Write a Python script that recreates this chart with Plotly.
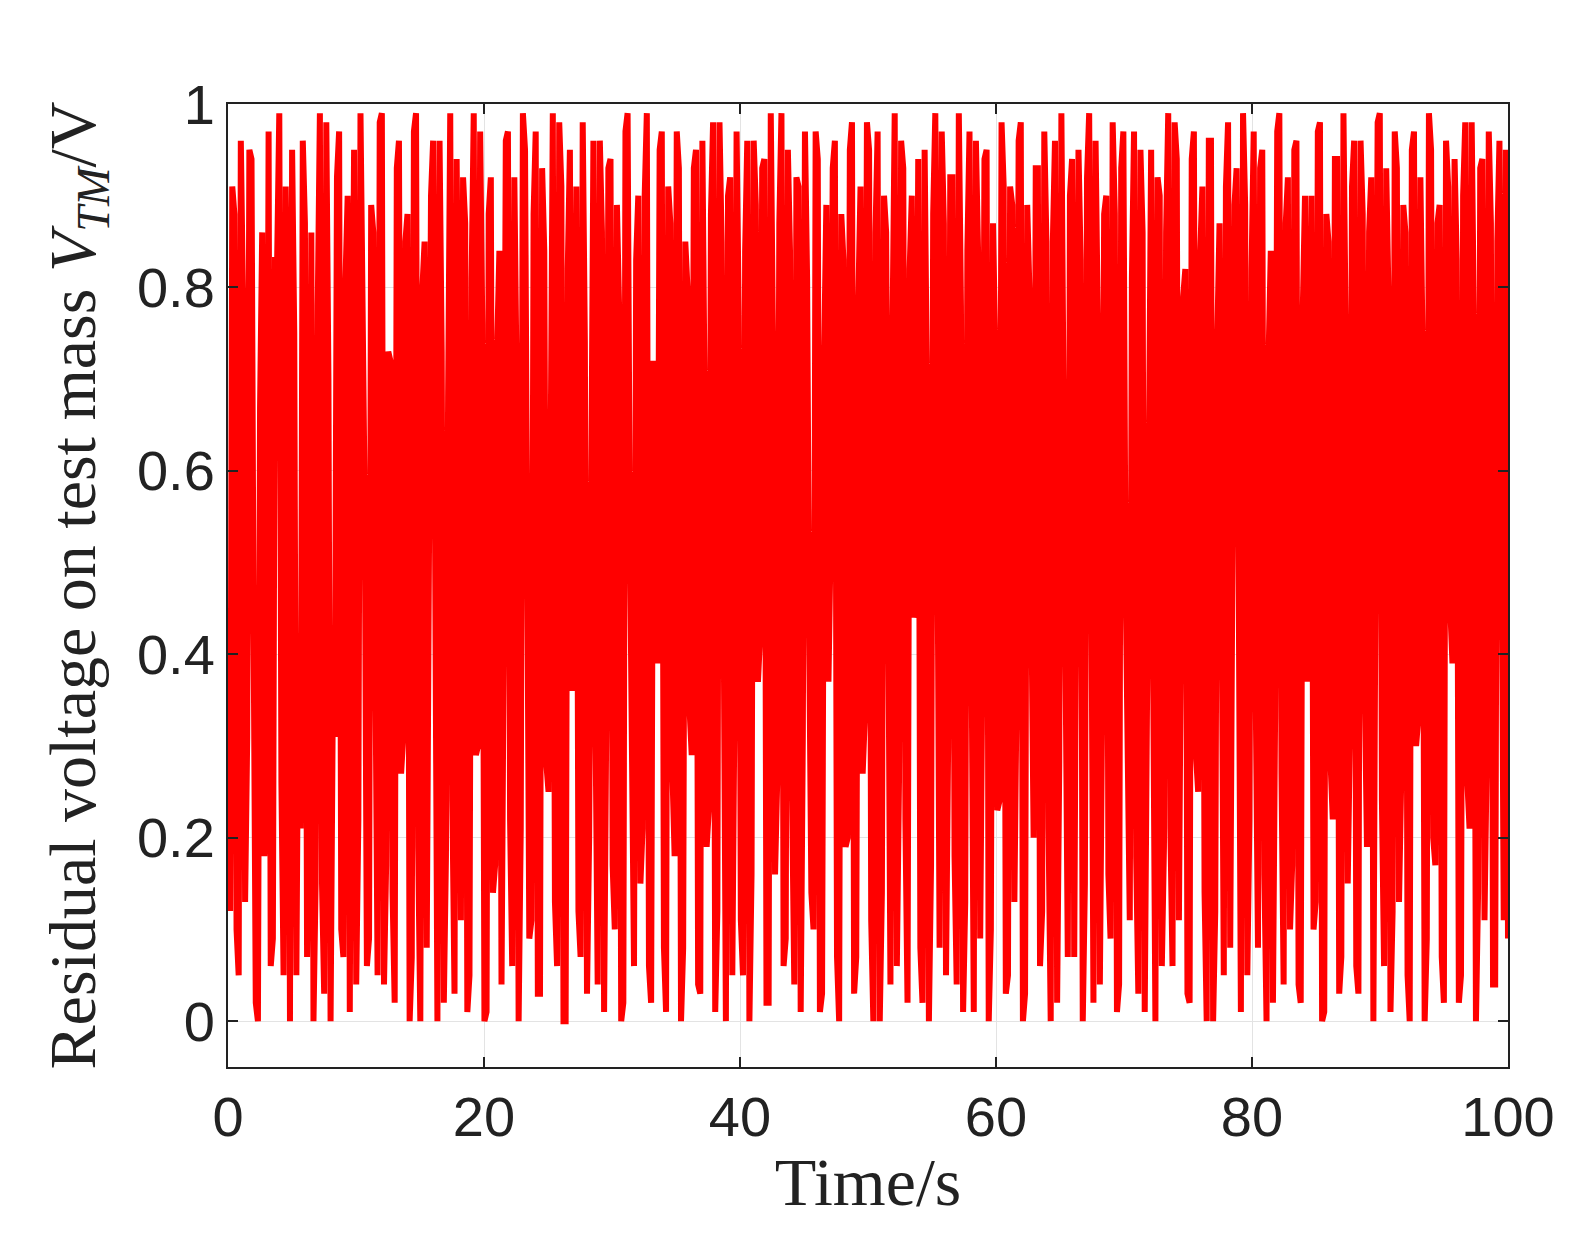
import numpy as np
import plotly.graph_objects as go

# residual voltage samples (V), evenly spaced over 0-100 s
voltage_a = [
    0.35, 0.91, 0.10, 0.96, 0.13, 0.95, 0.42, 0.00, 0.86, 0.23, 0.06, 0.83, 0.99, 0.05, 0.72, 0.95, 0.05, 0.21, 0.87, 0.28,
    0.00, 0.78, 0.15, 0.98, 0.00, 0.31, 0.97, 0.07, 0.90, 0.61, 0.04, 0.99, 0.56, 0.09, 0.86, 0.05, 0.99, 0.17, 0.72, 0.02,
    0.96, 0.31, 0.88, 0.07, 0.99, 0.00, 0.85, 0.42, 0.96, 0.00, 0.73, 0.18, 0.99, 0.03, 0.64, 0.92, 0.01, 0.81, 0.29, 0.97,
    0.00, 0.88, 0.14, 0.74, 0.04, 0.96, 0.22, 0.92, 0.00, 0.99, 0.38, 0.11, 0.97, 0.03, 0.84, 0.25, 0.99, 0.06, 0.91, 0.00,
    0.95, 0.47, 0.12, 0.98, 0.03, 0.78, 0.32, 0.96, 0.01, 0.93, 0.17, 0.89, 0.00, 0.97, 0.55, 0.06, 0.90, 0.21, 0.99, 0.02,
    0.69, 0.95, 0.08, 0.91, 0.27, 0.97, 0.00, 0.85, 0.34, 0.93, 0.04, 0.96, 0.19, 0.88, 0.01, 0.98, 0.29, 0.90, 0.05, 0.97,
    0.11, 0.84, 0.00, 0.96, 0.37, 0.93, 0.02, 0.99, 0.16, 0.87, 0.06, 0.95, 0.24, 0.92, 0.01, 0.97, 0.41, 0.10, 0.94, 0.03,
    0.89, 0.52, 0.96, 0.00, 0.83, 0.20, 0.98, 0.07, 0.91, 0.33, 0.95, 0.00, 0.97, 0.14, 0.86, 0.04, 0.99, 0.26, 0.93, 0.02,
    0.90, 0.46, 0.08, 0.95, 0.00, 0.88, 0.30, 0.97, 0.05, 0.92, 0.18, 0.99, 0.01, 0.84, 0.39, 0.96, 0.09, 0.94, 0.00, 0.87,
    0.23, 0.98, 0.03, 0.91, 0.13, 0.96, 0.00, 0.89, 0.44, 0.93, 0.06, 0.97, 0.21, 0.85, 0.02, 0.99, 0.35, 0.90, 0.07, 0.95,
    0.00, 0.92, 0.27, 0.96, 0.04, 0.88, 0.16, 0.98, 0.01, 0.93, 0.49, 0.11, 0.97, 0.03, 0.86, 0.31, 0.95, 0.00, 0.90, 0.19,
    0.99, 0.06, 0.94, 0.37, 0.82, 0.02, 0.97, 0.25, 0.91, 0.00, 0.96, 0.12, 0.87, 0.05, 0.98, 0.43, 0.93, 0.01, 0.89, 0.22,
    0.97, 0.08, 0.95, 0.00, 0.84, 0.33, 0.99, 0.04, 0.92, 0.17, 0.96, 0.02, 0.90, 0.58, 0.10, 0.97, 0.00, 0.88, 0.28, 0.94,
    0.03, 0.99, 0.15, 0.91, 0.06, 0.96, 0.36, 0.86, 0.00, 0.98, 0.24, 0.93, 0.01, 0.97, 0.13, 0.89, 0.05, 0.95, 0.30, 0.92,
    0.00, 0.99, 0.20, 0.87, 0.07, 0.96, 0.45, 0.94, 0.02, 0.90, 0.26, 0.98, 0.00, 0.93, 0.11, 0.97, 0.04, 0.85, 0.34, 0.95,
]
voltage_b = [
    0.12, 0.88, 0.05, 0.79, 0.31, 0.94, 0.02, 0.67, 0.18, 0.97, 0.09, 0.83, 0.26, 0.91, 0.00, 0.75, 0.41, 0.96, 0.07, 0.86,
    0.15, 0.99, 0.03, 0.70, 0.33, 0.92, 0.10, 0.81, 0.01, 0.95, 0.22, 0.77, 0.06, 0.89, 0.38, 0.98, 0.04, 0.73, 0.14, 0.93,
    0.27, 0.85, 0.00, 0.97, 0.19, 0.80, 0.08, 0.90, 0.35, 0.96, 0.02, 0.68, 0.24, 0.94, 0.11, 0.87, 0.05, 0.99, 0.30, 0.76,
    0.01, 0.92, 0.17, 0.84, 0.40, 0.97, 0.06, 0.71, 0.21, 0.95, 0.09, 0.88, 0.03, 0.93, 0.28, 0.79, 0.13, 0.98, 0.00, 0.82,
    0.36, 0.91, 0.07, 0.74, 0.20, 0.96, 0.04, 0.86, 0.32, 0.94, 0.10, 0.78, 0.02, 0.99, 0.25, 0.83, 0.15, 0.90, 0.06, 0.72,
    0.39, 0.97, 0.01, 0.87, 0.18, 0.93, 0.08, 0.80, 0.29, 0.95, 0.03, 0.69, 0.23, 0.98, 0.12, 0.85, 0.00, 0.92, 0.34, 0.77,
    0.05, 0.96, 0.16, 0.89, 0.42, 0.94, 0.02, 0.75, 0.26, 0.99, 0.09, 0.84, 0.04, 0.91, 0.31, 0.81, 0.14, 0.97, 0.01, 0.73,
    0.37, 0.93, 0.07, 0.88, 0.19, 0.95, 0.03, 0.79, 0.27, 0.98, 0.11, 0.86, 0.00, 0.90, 0.33, 0.76, 0.06, 0.96, 0.22, 0.82,
    0.44, 0.94, 0.02, 0.71, 0.17, 0.99, 0.08, 0.87, 0.30, 0.92, 0.04, 0.78, 0.13, 0.97, 0.01, 0.84, 0.38, 0.95, 0.10, 0.74,
    0.24, 0.91, 0.05, 0.89, 0.35, 0.98, 0.03, 0.80, 0.20, 0.93, 0.12, 0.85, 0.00, 0.96, 0.28, 0.72, 0.07, 0.94, 0.41, 0.83,
    0.15, 0.99, 0.02, 0.77, 0.32, 0.90, 0.09, 0.88, 0.04, 0.97, 0.25, 0.81, 0.18, 0.95, 0.01, 0.70, 0.36, 0.92, 0.06, 0.86,
    0.21, 0.98, 0.11, 0.79, 0.03, 0.94, 0.29, 0.84, 0.14, 0.96, 0.00, 0.75, 0.40, 0.91, 0.08, 0.89, 0.23, 0.99, 0.05, 0.82,
    0.34, 0.93, 0.16, 0.73, 0.02, 0.97, 0.27, 0.87, 0.10, 0.95, 0.04, 0.78, 0.37, 0.90, 0.13, 0.98, 0.01, 0.85, 0.22, 0.94,
    0.07, 0.76, 0.31, 0.96, 0.03, 0.88, 0.19, 0.92, 0.45, 0.99, 0.06, 0.80, 0.12, 0.93, 0.26, 0.86, 0.00, 0.97, 0.33, 0.74,
    0.09, 0.95, 0.17, 0.89, 0.02, 0.91, 0.39, 0.83, 0.05, 0.98, 0.21, 0.77, 0.14, 0.94, 0.28, 0.87, 0.04, 0.96, 0.11, 0.09,
]
# interleave the two read-off passes into one record
voltage = [v for pair in zip(voltage_a, voltage_b) for v in pair]
time = np.linspace(0, 100, len(voltage))

fig = go.Figure(go.Scatter(x=time, y=voltage, mode='lines',
                           line=dict(color='#ff0000', width=6)))

axis_common = dict(showline=True, linecolor='#222', linewidth=2, mirror='ticks',
                   ticks='inside', ticklen=10, tickwidth=2, tickcolor='#222',
                   showgrid=True, gridcolor='#e3e3e3', gridwidth=1, zeroline=False,
                   tickfont=dict(family='Liberation Sans, Arial', size=56, color='#222'))

fig.update_xaxes(range=[0, 100], dtick=20, **axis_common,
                 title=dict(text='Time/s', font=dict(family='Liberation Serif, serif', size=68, color='#222'),
                            standoff=10))
fig.update_yaxes(range=[-0.05, 1], tickvals=[0, 0.2, 0.4, 0.6, 0.8, 1],
                 ticktext=['0', '0.2', '0.4', '0.6', '0.8', '1'], **axis_common,
                 title=dict(text='Residual voltage on test mass <i>V</i><sub><i>TM</i></sub>/V',
                            font=dict(family='Liberation Serif, serif', size=66, color='#222'),
                            standoff=20))

fig.update_layout(width=1577, height=1255, plot_bgcolor='white', paper_bgcolor='white',
                  margin=dict(l=220, r=77, t=96, b=196), showlegend=False)

fig.write_html("out.html")
